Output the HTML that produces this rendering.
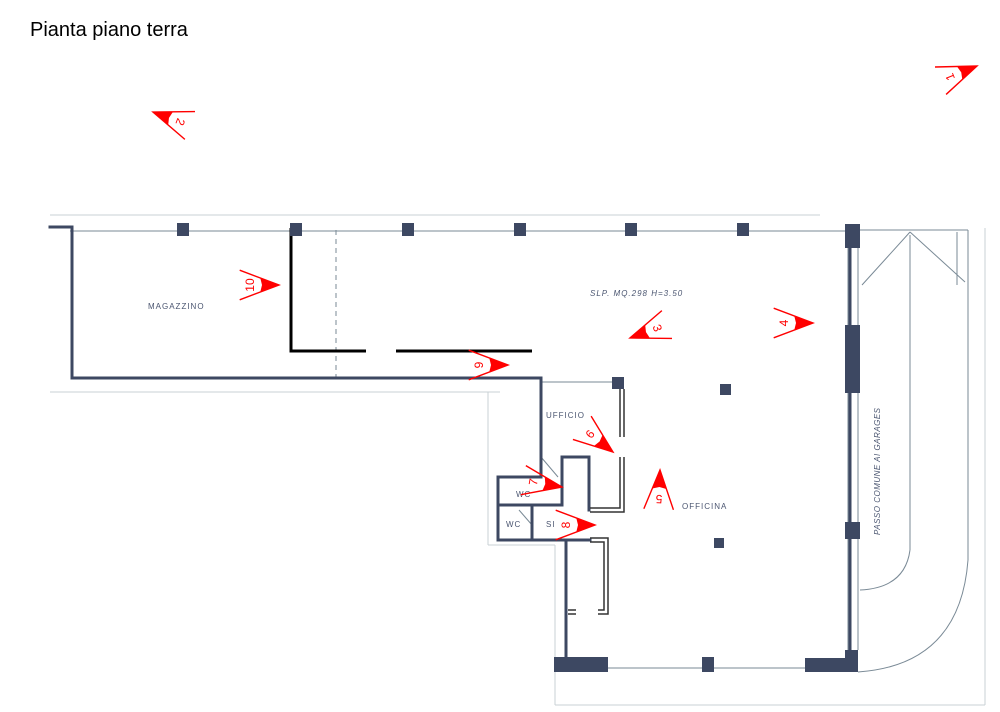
<!DOCTYPE html>
<html><head><meta charset="utf-8"><style>
body{margin:0;background:#fff;width:1000px;height:712px;overflow:hidden}
svg{position:absolute;left:0;top:0}
</style></head><body>
<svg id="s" width="1000" height="712" viewBox="0 0 1000 712" font-family="Liberation Sans, sans-serif">
<text x="30" y="36" font-size="20" fill="#000">Pianta piano terra</text>
<g stroke="#c8d0d4" stroke-width="1" fill="none">
<line x1="50" y1="215" x2="820" y2="215"/>
<line x1="50" y1="392" x2="500" y2="392"/>
<line x1="488" y1="392" x2="488" y2="545"/>
<line x1="488" y1="545" x2="555" y2="545"/>
<line x1="555" y1="545" x2="555" y2="705"/>
<line x1="555" y1="705" x2="985" y2="705"/>
<line x1="985" y1="228" x2="985" y2="705"/>
</g>
<g stroke="#7a8a96" stroke-width="1" fill="none">
<line x1="70" y1="231" x2="850" y2="231"/>
<line x1="540" y1="382" x2="616" y2="382"/>
<line x1="860" y1="230" x2="968" y2="230"/>
<line x1="968" y1="230" x2="968" y2="560"/>
<path d="M968 560 Q960 665 858 672"/>
<line x1="910" y1="235" x2="910" y2="550"/>
<path d="M910 550 Q905 588 860 590"/>
<line x1="910" y1="232" x2="862" y2="285"/>
<line x1="910" y1="232" x2="965" y2="282"/>
<line x1="957" y1="232" x2="957" y2="285"/>
<line x1="848" y1="248" x2="848" y2="650"/>
<line x1="858" y1="248" x2="858" y2="650"/>
<line x1="608" y1="668" x2="805" y2="668"/>
<line x1="336" y1="230" x2="336" y2="378" stroke-dasharray="5,4"/>
<line x1="541" y1="457" x2="558" y2="477"/>
<line x1="519" y1="510" x2="532" y2="525"/>
</g>
<g stroke="#3d4862" stroke-width="3" fill="none" stroke-linecap="square">
<line x1="50" y1="227" x2="72" y2="227"/>
<line x1="72" y1="227" x2="72" y2="378"/>
<line x1="72" y1="378" x2="541" y2="378"/>
<line x1="541" y1="378" x2="541" y2="477"/>
<line x1="498" y1="477" x2="541" y2="477"/>
<line x1="498" y1="477" x2="498" y2="540"/>
<line x1="498" y1="505" x2="562" y2="505"/>
<line x1="562" y1="457" x2="562" y2="505"/>
<line x1="562" y1="457" x2="589" y2="457"/>
<line x1="589" y1="457" x2="589" y2="510"/>
<line x1="532" y1="505" x2="532" y2="540"/>
<line x1="498" y1="540" x2="590" y2="540"/>
<line x1="566" y1="540" x2="566" y2="665"/>
<line x1="850" y1="228" x2="850" y2="660"/>
</g>
<g stroke="#333" stroke-width="1.5" fill="none">
<path d="M620 389 V437 M624 389 V437"/>
<path d="M620 457 V508 H590 M624 457 V512 H590"/>
<path d="M590 538 H608 V614 H598 M590 542 H604 V610 H598"/>
<path d="M568 610 H576 M568 614 H576"/>
</g>
<g stroke="#000" stroke-width="3" fill="none">
<path d="M291 228 V351 H366"/>
<line x1="396" y1="351" x2="532" y2="351"/>
</g>
<g fill="#3d4862">
<rect x="177" y="223" width="12" height="13"/>
<rect x="290" y="223" width="12" height="13"/>
<rect x="402" y="223" width="12" height="13"/>
<rect x="514" y="223" width="12" height="13"/>
<rect x="625" y="223" width="12" height="13"/>
<rect x="737" y="223" width="12" height="13"/>
<rect x="845" y="224" width="15" height="24"/>
<rect x="845" y="325" width="15" height="68"/>
<rect x="845" y="522" width="15" height="17"/>
<rect x="612" y="377" width="12" height="12"/>
<rect x="720" y="384" width="11" height="11"/>
<rect x="714" y="538" width="10" height="10"/>
<rect x="554" y="657" width="54" height="15"/>
<rect x="702" y="657" width="12" height="15"/>
<rect x="805" y="658" width="53" height="14"/>
<rect x="845" y="650" width="13" height="22"/>
</g>
<g fill="#4a5570" font-size="8" letter-spacing="1">
<text x="148" y="309">MAGAZZINO</text>
<text x="546" y="418">UFFICIO</text>
<text x="516" y="497">WC</text>
<text x="506" y="527">WC</text>
<text x="546" y="527">SI</text>
<text x="682" y="509">OFFICINA</text>
<text x="590" y="296" font-style="italic">SLP. MQ.298  H=3.50</text>
<text transform="translate(880,435) rotate(-90)" font-size="8" font-style="italic" x="-100" y="0" letter-spacing="0.5">PASSO COMUNE AI GARAGES</text>
</g>
<g id="ar"></g>
</svg>
<script>
var A=[[977,66,158,'1'],[153,112,20,'2'],[630,338,-20,'3'],[813,323,180,'4'],[660,470,92,'5'],[613,452,218,'6'],[562,487,190,'7'],[595,525,180,'8'],[508,365,180,'9'],[279,285,180,'10']];
var g=document.getElementById('ar'),h='';
A.forEach(function(a){var x=a[0],y=a[1],t=a[2]*Math.PI/180,L=42,w=0.36;
function p(l,s){var c=Math.cos(t+s),d=Math.sin(t+s);return [x+l*c,y+l*d];}
var b1=p(L,w),b2=p(L,-w),f1=p(20,w),f2=p(20,-w),m=p(29,0);
h+='<polyline points="'+b1+' '+x+','+y+' '+b2+'" fill="none" stroke="#f00" stroke-width="1.4"/>';
h+='<polygon points="'+f1+' '+x+','+y+' '+f2+' '+p(17,0)+'" fill="#f00"/>';
h+='<text x="'+m[0]+'" y="'+(m[1]+4)+'" font-size="12" fill="#f00" text-anchor="middle" transform="rotate('+(a[2]+90)+' '+m[0]+' '+m[1]+')">'+a[3]+'</text>';});
g.innerHTML=h;
</script>
</body></html>
